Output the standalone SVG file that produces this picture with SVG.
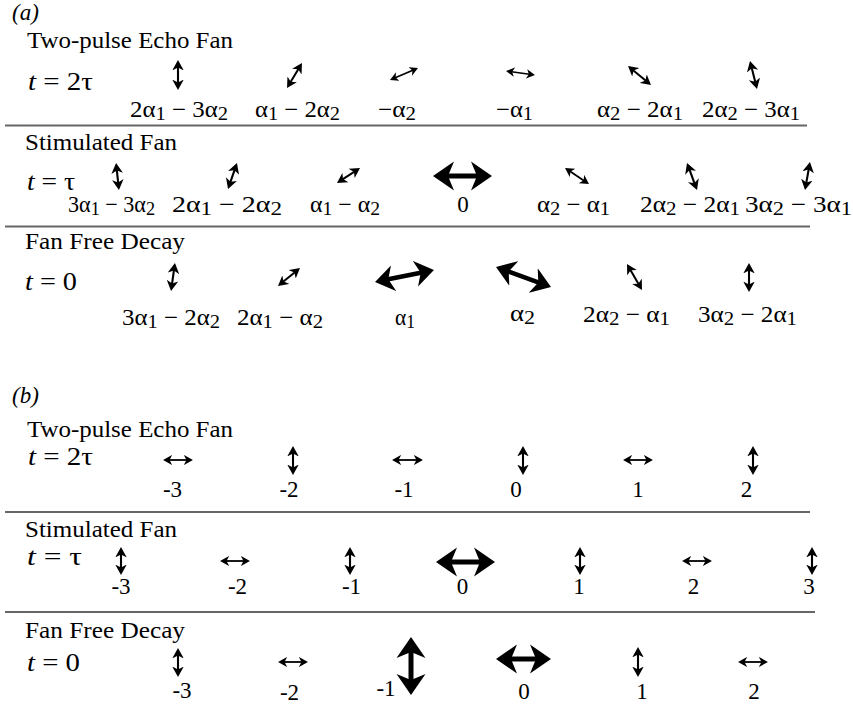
<svg xmlns="http://www.w3.org/2000/svg" width="853" height="704" viewBox="0 0 853 704">
<style>
text{font-family:"Liberation Serif","Times New Roman",serif;fill:#000}
.ttl{font-size:23px}
.eq{font-size:25.5px}
.it{font-style:italic}
.lb{font-size:23px}
.sb{font-size:19px}
.num{font-size:23px;text-anchor:middle}
.rule{stroke:#666;stroke-width:2}
.ar path{fill:none;stroke:#000;marker-start:url(#ah);marker-end:url(#ah)}
.ar.bd path{marker-start:url(#ahb);marker-end:url(#ahb)}
</style>
<defs>
<marker id="ah" viewBox="0 -3 5.5 6" refX="1.7" refY="0" markerWidth="5.5" markerHeight="6" orient="auto-start-reverse" markerUnits="strokeWidth"><path d="M5,0 L0,-2.75 L1.4,0 L0,2.75 Z" fill="#000" stroke="none"/></marker>
<marker id="ahb" viewBox="0 -3 4.5 6" refX="1.5" refY="0" markerWidth="4.5" markerHeight="6" orient="auto-start-reverse" markerUnits="strokeWidth"><path d="M4.2,0 L0,-2.9 L1.2,0 L0,2.9 Z" fill="#000" stroke="none"/></marker>
</defs>
<rect width="853" height="704" fill="#fff"/>

<!-- Panel (a) -->
<g id="panel-a">
<text class="ttl it" x="12" y="20">(a)</text>
<text class="ttl" x="27" y="47.5" textLength="206" lengthAdjust="spacingAndGlyphs">Two-pulse Echo Fan</text>
<text class="eq" x="28" y="89.5" textLength="65" lengthAdjust="spacingAndGlyphs"><tspan class="it">t</tspan> = 2τ</text>

<g id="a1-1"><g class="ar" transform="translate(178,75) rotate(90)"><path d="M-8.1,0H8.1" stroke-width="2.1"/></g>
<text class="lb" x="130" y="116.5" textLength="98" lengthAdjust="spacingAndGlyphs">2α<tspan class="sb" dy="3">1</tspan><tspan dy="-3"> − 3α</tspan><tspan class="sb" dy="3">2</tspan></text></g>
<g id="a1-2"><g class="ar" transform="translate(294.5,75.5) rotate(-59)"><path d="M-7.9,0H7.9" stroke-width="2"/></g>
<text class="lb" x="255" y="116.5" textLength="85" lengthAdjust="spacingAndGlyphs">α<tspan class="sb" dy="3">1</tspan><tspan dy="-3"> − 2α</tspan><tspan class="sb" dy="3">2</tspan></text></g>
<g id="a1-3"><g class="ar" transform="translate(404,74) rotate(-23)"><path d="M-9.6,0H9.6" stroke-width="1.7"/></g>
<text class="lb" x="378" y="116.5" textLength="38" lengthAdjust="spacingAndGlyphs">−α<tspan class="sb" dy="3">2</tspan></text></g>
<g id="a1-4"><g class="ar" transform="translate(520.5,73) rotate(8)"><path d="M-9,0H9" stroke-width="1.7"/></g>
<text class="lb" x="496" y="116.5" textLength="37" lengthAdjust="spacingAndGlyphs">−α<tspan class="sb" dy="3">1</tspan></text></g>
<g id="a1-5"><g class="ar" transform="translate(639.5,75.5) rotate(39.6)"><path d="M-8.3,0H8.3" stroke-width="2"/></g>
<text class="lb" x="597" y="116.5" textLength="86" lengthAdjust="spacingAndGlyphs">α<tspan class="sb" dy="3">2</tspan><tspan dy="-3"> − 2α</tspan><tspan class="sb" dy="3">1</tspan></text></g>
<g id="a1-6"><g class="ar" transform="translate(753.5,75) rotate(76)"><path d="M-7.5,0H7.5" stroke-width="2.1"/></g>
<text class="lb" x="702" y="116.5" textLength="98" lengthAdjust="spacingAndGlyphs">2α<tspan class="sb" dy="3">2</tspan><tspan dy="-3"> − 3α</tspan><tspan class="sb" dy="3">1</tspan></text></g>

<line class="rule" x1="5" y1="125.5" x2="807" y2="125.5"/>

<text class="ttl" x="25" y="150" textLength="152" lengthAdjust="spacingAndGlyphs">Stimulated Fan</text>
<text class="eq" x="27" y="190" textLength="48" lengthAdjust="spacingAndGlyphs"><tspan class="it">t</tspan> = τ</text>

<g id="a2-1"><g class="ar" transform="translate(117.5,176.5) rotate(84)"><path d="M-6.7,0H6.7" stroke-width="2.1"/></g>
<text class="lb" x="68" y="212" textLength="87" lengthAdjust="spacingAndGlyphs">3α<tspan class="sb" dy="3">1</tspan><tspan dy="-3"> − 3α</tspan><tspan class="sb" dy="3">2</tspan></text></g>
<g id="a2-2"><g class="ar" transform="translate(232.5,176) rotate(109)"><path d="M-6.8,0H6.8" stroke-width="2.1"/></g>
<text class="lb" x="172" y="212" textLength="110" lengthAdjust="spacingAndGlyphs">2α<tspan class="sb" dy="3">1</tspan><tspan dy="-3"> − 2α</tspan><tspan class="sb" dy="3">2</tspan></text></g>
<g id="a2-3"><g class="ar" transform="translate(348.5,175.5) rotate(-33)"><path d="M-7.15,0H7.15" stroke-width="2"/></g>
<text class="lb" x="310" y="212" textLength="70" lengthAdjust="spacingAndGlyphs">α<tspan class="sb" dy="3">1</tspan><tspan dy="-3"> − α</tspan><tspan class="sb" dy="3">2</tspan></text></g>
<g id="a2-4"><g class="ar bd" transform="translate(462.5,176)"><path d="M-16,0H16" stroke-width="5"/></g>
<text class="num" x="463" y="212">0</text></g>
<g id="a2-5"><g class="ar" transform="translate(577,176) rotate(33.7)"><path d="M-8.45,0H8.45" stroke-width="1.8"/></g>
<text class="lb" x="537" y="212" textLength="73" lengthAdjust="spacingAndGlyphs">α<tspan class="sb" dy="3">2</tspan><tspan dy="-3"> − α</tspan><tspan class="sb" dy="3">1</tspan></text></g>
<g id="a2-6"><g class="ar" transform="translate(692,176.5) rotate(69.7)"><path d="M-7.5,0H7.5" stroke-width="2.1"/></g>
<text class="lb" x="640" y="212" textLength="100" lengthAdjust="spacingAndGlyphs">2α<tspan class="sb" dy="3">2</tspan><tspan dy="-3"> − 2α</tspan><tspan class="sb" dy="3">1</tspan></text></g>
<g id="a2-7"><g class="ar" transform="translate(807.5,176) rotate(100)"><path d="M-7.3,0H7.3" stroke-width="2.1"/></g>
<text class="lb" x="745" y="212" textLength="107" lengthAdjust="spacingAndGlyphs">3α<tspan class="sb" dy="3">2</tspan><tspan dy="-3"> − 3α</tspan><tspan class="sb" dy="3">1</tspan></text></g>

<line class="rule" x1="5" y1="226.5" x2="810" y2="226.5"/>

<text class="ttl" x="25" y="249" textLength="160" lengthAdjust="spacingAndGlyphs">Fan Free Decay</text>
<text class="eq" x="25" y="290" textLength="52" lengthAdjust="spacingAndGlyphs"><tspan class="it">t</tspan> = 0</text>

<g id="a3-1"><g class="ar" transform="translate(173,277) rotate(98)"><path d="M-7.2,0H7.2" stroke-width="2.1"/></g>
<text class="lb" x="122" y="325" textLength="98" lengthAdjust="spacingAndGlyphs">3α<tspan class="sb" dy="3">1</tspan><tspan dy="-3"> − 2α</tspan><tspan class="sb" dy="3">2</tspan></text></g>
<g id="a3-2"><g class="ar" transform="translate(289,277) rotate(-39.3)"><path d="M-7.6,0H7.6" stroke-width="2"/></g>
<text class="lb" x="237" y="325" textLength="86" lengthAdjust="spacingAndGlyphs">2α<tspan class="sb" dy="3">1</tspan><tspan dy="-3"> − α</tspan><tspan class="sb" dy="3">2</tspan></text></g>
<g id="a3-3"><g class="ar bd" transform="translate(404.5,276) rotate(-11.5)"><path d="M-17.9,0H17.9" stroke-width="4.5"/></g>
<text class="lb" x="395" y="325" textLength="20" lengthAdjust="spacingAndGlyphs">α<tspan class="sb" dy="3">1</tspan></text></g>
<g id="a3-4"><g class="ar bd" transform="translate(523.5,277) rotate(20)"><path d="M-17.1,0H17.1" stroke-width="4.5"/></g>
<text class="lb" x="510" y="321" textLength="25" lengthAdjust="spacingAndGlyphs">α<tspan class="sb" dy="3">2</tspan></text></g>
<g id="a3-5"><g class="ar" transform="translate(634.5,277) rotate(60)"><path d="M-8.4,0H8.4" stroke-width="2"/></g>
<text class="lb" x="583" y="322" textLength="87" lengthAdjust="spacingAndGlyphs">2α<tspan class="sb" dy="3">2</tspan><tspan dy="-3"> − α</tspan><tspan class="sb" dy="3">1</tspan></text></g>
<g id="a3-6"><g class="ar" transform="translate(749,277.5) rotate(90)"><path d="M-7.6,0H7.6" stroke-width="2.1"/></g>
<text class="lb" x="698" y="322" textLength="99" lengthAdjust="spacingAndGlyphs">3α<tspan class="sb" dy="3">2</tspan><tspan dy="-3"> − 2α</tspan><tspan class="sb" dy="3">1</tspan></text></g>
</g>

<!-- Panel (b) -->
<g id="panel-b">
<text class="ttl it" x="12" y="403">(b)</text>
<text class="ttl" x="27" y="437" textLength="206" lengthAdjust="spacingAndGlyphs">Two-pulse Echo Fan</text>
<text class="eq" x="28" y="465" textLength="65" lengthAdjust="spacingAndGlyphs"><tspan class="it">t</tspan> = 2τ</text>

<g id="b1-m3"><g class="ar" transform="translate(178,460)"><path d="M-9,0H9" stroke-width="1.8"/></g><text class="num" x="172.5" y="497">-3</text></g>
<g id="b1-m2"><g class="ar" transform="translate(293,460.5) rotate(90)"><path d="M-7.6,0H7.6" stroke-width="2.1"/></g><text class="num" x="289" y="497">-2</text></g>
<g id="b1-m1"><g class="ar" transform="translate(407.5,460)"><path d="M-9.5,0H9.5" stroke-width="1.8"/></g><text class="num" x="404" y="497">-1</text></g>
<g id="b1-0"><g class="ar" transform="translate(523,460.5) rotate(90)"><path d="M-7.6,0H7.6" stroke-width="2.1"/></g><text class="num" x="516" y="497">0</text></g>
<g id="b1-p1"><g class="ar" transform="translate(638,460)"><path d="M-9,0H9" stroke-width="1.8"/></g><text class="num" x="638" y="497">1</text></g>
<g id="b1-p2"><g class="ar" transform="translate(753,460.5) rotate(90)"><path d="M-7.6,0H7.6" stroke-width="2.1"/></g><text class="num" x="746.5" y="497">2</text></g>

<line class="rule" x1="5" y1="512" x2="810" y2="512"/>

<text class="ttl" x="25" y="537" textLength="152" lengthAdjust="spacingAndGlyphs">Stimulated Fan</text>
<text class="eq" x="27" y="565" textLength="55" lengthAdjust="spacingAndGlyphs"><tspan class="it">t</tspan> = τ</text>

<g id="b2-m3"><g class="ar" transform="translate(121,561) rotate(90)"><path d="M-7.1,0H7.1" stroke-width="2.1"/></g><text class="num" x="121" y="594">-3</text></g>
<g id="b2-m2"><g class="ar" transform="translate(235,561)"><path d="M-9,0H9" stroke-width="1.8"/></g><text class="num" x="237.5" y="594">-2</text></g>
<g id="b2-m1"><g class="ar" transform="translate(350,561) rotate(90)"><path d="M-7.1,0H7.1" stroke-width="2.1"/></g><text class="num" x="351.5" y="594">-1</text></g>
<g id="b2-0"><g class="ar bd" transform="translate(465.5,562)"><path d="M-16,0H16" stroke-width="5"/></g><text class="num" x="462.5" y="594">0</text></g>
<g id="b2-p1"><g class="ar" transform="translate(580,561) rotate(90)"><path d="M-7.1,0H7.1" stroke-width="2.1"/></g><text class="num" x="579" y="594">1</text></g>
<g id="b2-p2"><g class="ar" transform="translate(697,561)"><path d="M-9,0H9" stroke-width="1.8"/></g><text class="num" x="693.5" y="594">2</text></g>
<g id="b2-p3"><g class="ar" transform="translate(812,561) rotate(90)"><path d="M-7.1,0H7.1" stroke-width="2.1"/></g><text class="num" x="809" y="594">3</text></g>

<line class="rule" x1="5" y1="612" x2="815" y2="612"/>

<text class="ttl" x="25" y="638" textLength="160" lengthAdjust="spacingAndGlyphs">Fan Free Decay</text>
<text class="eq" x="27" y="671" textLength="53" lengthAdjust="spacingAndGlyphs"><tspan class="it">t</tspan> = 0</text>

<g id="b3-m3"><g class="ar" transform="translate(178,662.5) rotate(90)"><path d="M-7.6,0H7.6" stroke-width="2.1"/></g><text class="num" x="182" y="698">-3</text></g>
<g id="b3-m2"><g class="ar" transform="translate(293,662)"><path d="M-9,0H9" stroke-width="1.8"/></g><text class="num" x="289.5" y="700">-2</text></g>
<g id="b3-m1"><g class="ar bd" transform="translate(411,666) rotate(90)"><path d="M-15.5,0H15.5" stroke-width="5"/></g><text class="num" x="386" y="696">-1</text></g>
<g id="b3-0"><g class="ar bd" transform="translate(523.5,659)"><path d="M-14,0H14" stroke-width="5"/></g><text class="num" x="524" y="699">0</text></g>
<g id="b3-p1"><g class="ar" transform="translate(638,662) rotate(90)"><path d="M-8.1,0H8.1" stroke-width="2.1"/></g><text class="num" x="642" y="699">1</text></g>
<g id="b3-p2"><g class="ar" transform="translate(753,662)"><path d="M-9,0H9" stroke-width="1.8"/></g><text class="num" x="754" y="699">2</text></g>
</g>
</svg>
